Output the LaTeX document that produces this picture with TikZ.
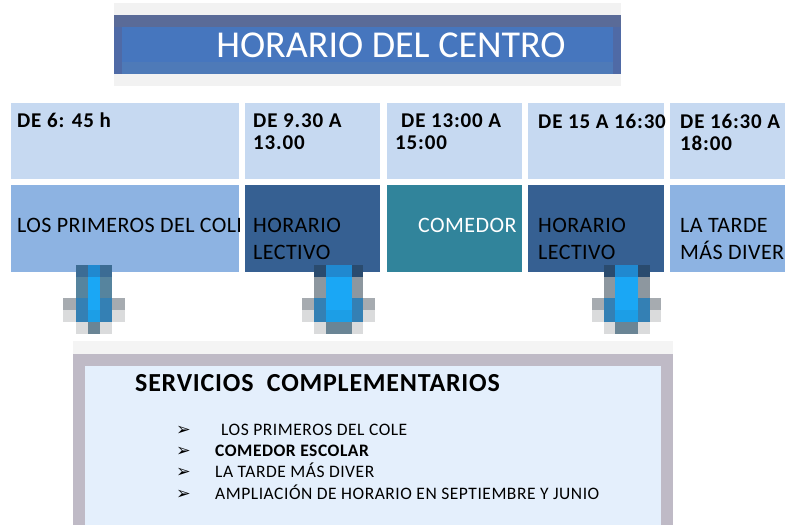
\documentclass[tikz,border=0pt]{standalone}
\usepackage{fontspec}
\setmainfont{Carlito}
\newfontfamily\simbolos{DejaVu Sans}
\usetikzlibrary{positioning,calc}

\definecolor{fondotitulo}{HTML}{F2F2F2}
\definecolor{azultitulo}{HTML}{4676BE}
\definecolor{bordetitulo}{HTML}{5A6B98}
\definecolor{bandatitulo}{HTML}{4E7AB8}
\definecolor{ladotitulo}{HTML}{4F6AA6}
\definecolor{celdaclara}{HTML}{C6D9F1}
\definecolor{azulmedio}{HTML}{8DB3E2}
\definecolor{azuloscuro}{HTML}{366092}
\definecolor{verdeazul}{HTML}{31849B}
\definecolor{fondoserv}{HTML}{E4EFFC}
\definecolor{marco}{HTML}{BFBAC6}
\definecolor{halo}{HTML}{F4F4F4}
% colores de las flechas
\definecolor{flechaviva}{HTML}{1AA7F5}
\definecolor{flechaalta}{HTML}{2089D0}
\definecolor{flechamedia}{HTML}{3480B4}
\definecolor{flechabaja}{HTML}{1C9EE6}
\definecolor{flechapunta}{HTML}{6A8595}
\definecolor{alagris}{HTML}{A6ABB0}
\definecolor{alaclara}{HTML}{DADBDC}

\begin{document}
\begin{tikzpicture}[x=1pt,y=-1pt]
	\tikzstyle{caja}=[draw=none,inner sep=0pt,anchor=north west]
	\tikzstyle{hora}=[inner sep=0pt,anchor=north west,align=left,font=\fontsize{21}{22}\selectfont\bfseries\addfontfeature{LetterSpace=4}]
	\tikzstyle{turno}=[inner sep=0pt,anchor=north west,align=left,font=\fontsize{22}{27}\selectfont\addfontfeature{LetterSpace=2}]
	\tikzstyle{item}=[inner sep=0pt,anchor=base west,font=\fontsize{17.5}{21}\selectfont\addfontfeature{LetterSpace=3}]
	\useasboundingbox (0,0) rectangle (785,525);

	% titulo
	\node[caja,fill=fondotitulo,minimum width=507,minimum height=83] (marcotitulo) at (114,3) {};
	\node[caja,fill=ladotitulo,minimum width=507,minimum height=59] (titulo) at (114,15) {};
	\fill[bordetitulo] (114,15) rectangle (621,27);
	\fill[azultitulo] (122,27) rectangle (613,62);
	\fill[bandatitulo] (122,62) rectangle (613,74);
	\node[text=white,inner sep=0pt,font=\fontsize{38}{40}\selectfont] (textotitulo) at (391,45) {HORARIO DEL CENTRO};

	% fila de horas
	\foreach \n/\x/\w in {1/11/228, 2/245/135, 3/387/135, 4/528/136, 5/670/130}
		\node[caja,fill=celdaclara,minimum width=\w,minimum height=76] (h\n) at (\x,103) {};
	\node[hora] (th1) at (17,113) {DE 6: 45 h};
	\node[hora] (th2) at (253,114) {DE 9.30 A\\13.00};
	\node[hora] (th3) at (395,114) {\hspace{6pt}DE 13:00 A\\15:00};
	\node[hora] (th4) at (538,114) {DE 15 A 16:30};
	\node[hora] (th5) at (680,114) {DE 16:30 A\\18:00};

	% fila de servicios
	\node[caja,fill=azulmedio,minimum width=228,minimum height=87] (b1) at (11,185) {};
	\begin{scope}
		\clip (b1.north west) rectangle (b1.south east);
		\node[turno] (tb1) at (17,218) {LOS PRIMEROS DEL COLE};
	\end{scope}
	\node[caja,fill=azuloscuro,minimum width=135,minimum height=87] (b2) at (245,185) {};
	\node[caja,fill=verdeazul,minimum width=135,minimum height=87] (b3) at (387,185) {};
	\node[caja,fill=azuloscuro,minimum width=136,minimum height=87] (b4) at (528,185) {};
	\node[caja,fill=azulmedio,minimum width=130,minimum height=87] (b5) at (670,185) {};
	\node[turno] (tb2) at (253,218) {HORARIO\\LECTIVO};
	\node[turno,text=white] (tb3) at (418,218) {COMEDOR};
	\node[turno] (tb4) at (538,218) {HORARIO\\LECTIVO};
	\node[turno] (tb5) at (680,218) {LA TARDE\\MÁS DIVER};

	% recuadro inferior
	\node[caja,fill=halo,minimum width=600,minimum height=184] (servicios) at (73,341) {};
	\node[caja,fill=marco,minimum width=600,minimum height=171] (marcoserv) at (73,354) {};
	\node[caja,fill=fondoserv,minimum width=576,minimum height=160] (interior) at (85,366) {};

	% flechas (columnas a..f, tono de la parte alta y del tronco)
	\foreach \i/\a/\b/\c/\d/\e/\f/\alto/\tronco in {1/63/76/88/100/112/125/3C6C94/56849E,
			2/302/314/326/352/363/375/2A4B6E/8D979F, 3/592/604/615/638/650/661/2A4B6E/8D979F} {
		\coordinate (f\i) at ({(\c+\d)/2},265);
		\definecolor{flechaalto}{HTML}{\alto}
		\definecolor{flechatronco}{HTML}{\tronco}
		\fill[flechaalto] (\b,265) rectangle (\e,277);
		\fill[flechatronco] (\b,277) rectangle (\e,298);
		\fill[alagris] (\a,298) rectangle (\f,310);
		\fill[alaclara] (\a,310) rectangle (\f,322);
		\fill[flechamedia] (\b,298) rectangle (\e,322);
		\fill[alaclara] (\b,322) rectangle (\e,334);
		\fill[flechaalta] (\c,265) rectangle (\d,277);
		\fill[flechaviva] (\c,277) rectangle (\d,310);
		\fill[flechabaja] (\c,310) rectangle (\d,322);
		\fill[flechapunta] (\c,322) rectangle (\d,334);
	}

	\node[inner sep=0pt,anchor=base west,font=\fontsize{26}{28}\selectfont\bfseries\addfontfeature{LetterSpace=3}] (tituloserv) at (135,391) {SERVICIOS\ \ COMPLEMENTARIOS};
	\foreach \i/\t/\yy in {1/{\hspace{6pt}LOS PRIMEROS DEL COLE}/435, 2/{\bfseries COMEDOR ESCOLAR}/456,
			3/{LA TARDE MÁS DIVER}/477, 4/{AMPLIACIÓN DE HORARIO EN SEPTIEMBRE Y JUNIO}/499} {
		\node[item] (v\i) at (176,\yy) {\simbolos ➢};
		\node[item] (l\i) at (215,\yy) {\t};
	}
\end{tikzpicture}
\end{document}
